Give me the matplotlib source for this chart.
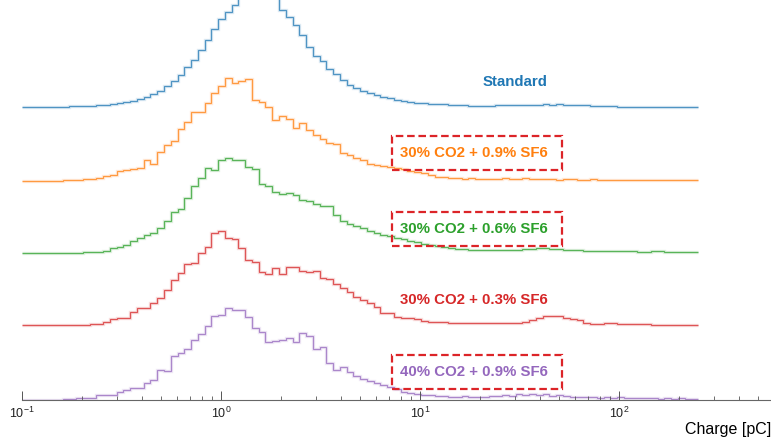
import numpy as np
import matplotlib
matplotlib.use("Agg")
import matplotlib.pyplot as plt
from matplotlib.patches import Rectangle

plt.rcParams['font.family'] = ['Liberation Sans', 'DejaVu Sans']
plt.rcParams['mathtext.default'] = 'regular'

# --- DATA (charge spectra, arbitrary units, 100 log bins 0.1 - 250 pC) ---
BIN_LO, BIN_HI, NBINS = 0.1, 250.0, 100

standard = [0, 0, 0, 0, 0.3, 0.3, 0.5, 0.8, 1, 1.5,
            1.5, 2, 2.5, 3.5, 4, 5, 6.5, 8, 10, 13,
            16, 21, 26, 32, 40, 47, 57, 67, 78, 88,
            95, 102, 115, 128, 138, 142, 136, 122, 97, 90,
            82, 72, 60, 51, 46, 38, 33, 27, 22, 19,
            16, 14, 12, 10, 9, 7, 6, 5, 4.5, 4,
            3.5, 3, 3, 2.5, 2, 2, 1.5, 1, 1.5, 1.5,
            2, 2, 2, 2.5, 2, 2.5, 2.5, 3, 2.5, 3,
            2.5, 2.5, 2, 2, 1.5, 1, 1, 1, 0.5, 0.5,
            0.5, 0.5, 0.5, 0, 0.5, 0, 0, 0, 0, 0]

co2_30_sf6_09 = [0, 0, 0, 0, 0.5, 0.5, 1, 1, 1.5, 2,
                 2.5, 3, 5, 6, 10, 11, 12, 13, 21, 17,
                 29, 36, 40, 52, 59, 69, 69, 78, 88, 95,
                 103, 98, 100, 102, 81, 79, 74, 61, 65, 62,
                 53, 58, 51, 46, 42, 38, 37, 28, 26, 23,
                 21, 17, 16, 15, 14, 13, 12, 10, 9, 8,
                 6, 4, 4, 3, 3, 2.5, 3, 2.5, 2, 2.5,
                 2, 3, 2, 2.5, 3, 2, 2.5, 2, 2, 1.5,
                 2, 2, 1.5, 1.5, 2, 1.5, 1, 1.5, 1, 1.5,
                 1, 1, 1.5, 1, 1, 1, 1.5, 1, 1, 1]

co2_30_sf6_06 = [0, 0, 0, 0, 0, 0, 0.3, 0.5, 0.5, 0.8,
                 1, 1.3, 2, 5, 6, 8, 12, 15, 18, 20,
                 25, 32, 41, 44, 55, 67, 75, 85, 83, 93,
                 95, 93, 93, 86, 84, 69, 67, 61, 59, 60,
                 58, 53, 52, 49, 47, 47, 38, 32, 29, 27,
                 25, 22, 20, 18, 17, 15, 14, 12, 11, 9,
                 8, 7, 6, 5, 4, 4, 3.5, 3, 3, 3,
                 3, 3, 3, 3.5, 4, 4.5, 5, 5, 4.5, 4,
                 3.5, 3, 3, 2.5, 2.5, 2, 2, 2, 2.5, 2,
                 2, 1.5, 1.5, 2, 2, 1.5, 1, 1, 1.5, 1]

co2_30_sf6_03 = [0, 0, 0, 0, 0, 0, 0, 0.3, 0.5, 0.5,
                 1, 1, 2.7, 6, 7, 7, 13, 17, 17, 22,
                 27, 35, 45, 52, 61, 62, 72, 78, 92, 94,
                 87, 86, 77, 65, 63, 53, 51, 57, 51, 58,
                 58, 54, 53, 54, 47, 46, 41, 37, 33, 28,
                 25, 22, 18, 12, 12, 8, 7, 7, 6, 4,
                 3, 3, 3, 2.5, 2.5, 2, 2, 2, 2.5, 2,
                 2, 2, 2.5, 2.5, 3, 5, 7, 9, 9, 9.5,
                 7, 6, 5, 2, 1.5, 1.5, 2, 2, 1.5, 1.5,
                 1.5, 1, 1, 0.5, 0.5, 0.5, 0.5, 0, 0.5, 0]

co2_40_sf6_09 = [0, 0, 0, 0, 0, 0, 0.3, 0.5, 1.5, 2,
                 2, 5, 5, 5, 8, 10, 12, 12, 17, 20,
                 30, 29, 44, 47, 51, 60, 66, 74, 84, 85,
                 92, 90, 90, 83, 72, 68, 58, 59, 60, 62,
                 58, 67, 64, 51, 53, 37, 30, 33, 28, 24,
                 21, 19, 17, 15, 13, 11, 8, 7, 6, 5,
                 5, 4, 4, 3, 3, 4, 3, 3, 3, 4,
                 4, 5, 4, 6, 5, 6, 5, 6, 4, 5,
                 4, 3, 3, 3, 3, 2, 3, 2, 3, 2,
                 2, 2, 1.5, 1.5, 1, 2, 1, 1.5, 1, 1]

labels = ["Standard", "30% CO2 + 0.9% SF6", "30% CO2 + 0.6% SF6",
          "30% CO2 + 0.3% SF6", "40% CO2 + 0.9% SF6"]
series = [standard, co2_30_sf6_09, co2_30_sf6_06, co2_30_sf6_03, co2_40_sf6_09]
offsets = [293, 219, 147, 75, 0.5]
label_y = [318, 247, 171, 100, 28]
boxed = [False, True, True, False, True]
colors = ['#1f77b4', '#ff7f0e', '#2ca02c', '#d62728', '#9467bd']

# --- PLOT ---
fig = plt.figure(figsize=(7.71, 4.38), dpi=100)
ax = fig.add_axes([22 / 771, 38 / 438, 749 / 771, 400 / 438])

edges = np.logspace(np.log10(BIN_LO), np.log10(BIN_HI), NBINS + 1)
for vals, off, col in zip(series, offsets, colors):
    v = np.array(vals) + off
    ax.stairs(v, edges, baseline=None, color=col, lw=2.4, alpha=0.15)
    ax.stairs(v, edges, baseline=None, color=col, lw=0.9, alpha=0.75)

# labels (boxes drawn as dashed rectangles around the flagged mixtures)
BOX_X0, BOX_X1, BOX_H = 7.23, 51.7, 34
for lab, y, col, box in zip(labels, label_y, colors, boxed):
    if lab == "Standard":
        ax.text(30, y, lab, color=col, fontsize=10.8, fontweight='bold',
                ha='center', va='center')
        continue
    ax.text(7.9, y, lab, color=col, fontsize=10.8, fontweight='bold',
            ha='left', va='center')
    if box:
        ax.add_patch(Rectangle((BOX_X0, y - BOX_H / 2), BOX_X1 - BOX_X0, BOX_H,
                               fill=False, ec='#dc2428', lw=1.6,
                               ls=(0, (3.4, 1.7))))

ax.set_xscale('log')
ax.set_xlim(0.1, 580)
ax.set_ylim(0, 400)

for s in ['left', 'right', 'top']:
    ax.spines[s].set_visible(False)
ax.spines['bottom'].set_color('#666666')
ax.spines['bottom'].set_linewidth(0.8)
ax.yaxis.set_visible(False)
ax.tick_params(axis='x', which='major', direction='in', length=6.5, width=0.7,
               color='#555555', labelsize=9, pad=4, labelcolor='#222222')
ax.tick_params(axis='x', which='minor', direction='in', length=3, width=0.6,
               color='#555555')
ax.set_xlabel('Charge [pC]', loc='right', fontsize=11.5, labelpad=1)

plt.savefig('out.png', dpi=100)
